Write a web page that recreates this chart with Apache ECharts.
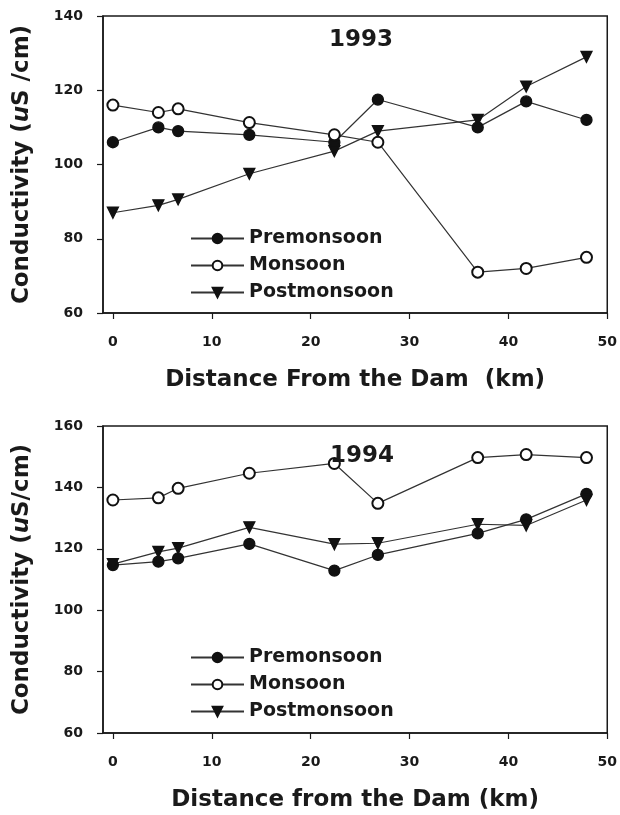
<!DOCTYPE html>
<html>
<head>
<meta charset="utf-8">
<script src="https://cdn.jsdelivr.net/npm/echarts@6/dist/echarts.min.js"></script>
<style>
html,body{margin:0;padding:0;background:#fff;}
#c{width:620px;height:815px;}
</style>
</head>
<body>
<div id="c"></div>
<script>
// Distance from the dam (km)
const distance = [0, 4.6, 6.6, 13.8, 22.4, 26.8, 36.9, 41.8, 47.9];
// 1993 conductivity (uS/cm)
const pre1993  = [106, 110, 109, 108, 106, 117.5, 110, 117, 112];
const mon1993  = [116, 114, 115, 111.3, 108, 106, 71, 72, 75];
const post1993 = [87, 89, 90.6, 97.5, 103.6, 109, 112, 121, 129];
// 1994 conductivity (uS/cm)
const pre1994  = [114.7, 115.8, 116.9, 121.6, 112.9, 118, 125, 129.6, 137.9];
const mon1994  = [135.9, 136.6, 139.7, 144.6, 147.8, 134.8, 149.7, 150.7, 149.7];
const post1994 = [115, 119, 120.2, 127, 121.5, 121.8, 128, 127.6, 135.9];
// tick labels
const xTicks = [0, 10, 20, 30, 40, 50];
const seriesNames = ['Premonsoon', 'Monsoon', 'Postmonsoon'];
const panelTitles = ['1993', '1994'];

const FF = 'DejaVu Sans';
const INK = '#1a1a1a';
const pair = (xs, ys) => xs.map((x, i) => [x, ys[i]]);

function xAxis(gi, name) {
  return {
    type: 'value', gridIndex: gi, min: -1, max: 50,
    axisLine: {show: true, onZero: false, lineStyle: {color: INK, width: 1.5}},
    axisTick: {show: true, length: 6, customValues: xTicks, lineStyle: {color: INK, width: 1.2}},
    axisLabel: {customValues: xTicks, margin: 22, color: INK, fontFamily: FF, fontWeight: 'bold', fontSize: 14},
    splitLine: {show: false},
    name: name, nameLocation: 'middle', nameGap: 56,
    nameTextStyle: {color: INK, fontFamily: FF, fontWeight: 'bold', fontSize: 23}
  };
}
function yAxis(gi, min, max, name) {
  return {
    type: 'value', gridIndex: gi, min: min, max: max, interval: 20,
    axisLine: {show: true, onZero: false, lineStyle: {color: INK, width: 1.5}},
    axisTick: {show: true, length: 6, lineStyle: {color: INK, width: 1.2}},
    axisLabel: {margin: 20, color: INK, fontFamily: FF, fontWeight: 'bold', fontSize: 14},
    splitLine: {show: false},
    name: name, nameLocation: 'middle', nameGap: 69,
    nameTextStyle: {
      color: INK, fontFamily: FF, fontWeight: 'bold', fontSize: 23,
      rich: {it: {fontStyle: 'italic', fontWeight: 'bold', fontFamily: FF, fontSize: 23, color: INK}}
    }
  };
}
const lineStyle = {color: '#333', width: 1.2};
function mk(name, gi, data, kind) {
  const s = {
    name: name, type: 'line', xAxisIndex: gi, yAxisIndex: gi, data: data,
    symbolSize: 11, lineStyle: lineStyle, showAllSymbol: true, animation: false,
    itemStyle: {color: '#111', borderColor: '#111', borderWidth: 1.3}
  };
  if (kind === 'filled') { s.symbol = 'circle'; }
  if (kind === 'open') { s.symbol = 'emptyCircle'; }
  if (kind === 'tri') { s.symbol = 'triangle'; s.symbolRotate = 180; }
  return s;
}
function legend(top) {
  return {
    data: seriesNames, orient: 'vertical', left: 185, top: top,
    itemWidth: 53, itemHeight: 12, itemGap: 8, selectedMode: false,
    textStyle: {color: INK, fontFamily: FF, fontWeight: 'bold', fontSize: 19, padding: [0, 0, 0, 0]}
  };
}

const chart = echarts.init(document.getElementById('c'), null, {renderer: 'canvas'});
chart.setOption({
  animation: false,
  backgroundColor: '#fff',
  title: [
    {text: panelTitles[0], left: 356, top: 24, textAlign: 'center',
     textStyle: {color: INK, fontFamily: FF, fontWeight: 'bold', fontSize: 23}},
    {text: panelTitles[1], left: 357, top: 440, textAlign: 'center',
     textStyle: {color: INK, fontFamily: FF, fontWeight: 'bold', fontSize: 23}}
  ],
  legend: [legend(224), legend(643)],
  grid: [
    {left: 103, right: 11.5, top: 16, height: 297, show: true, borderColor: INK, borderWidth: 1.5},
    {left: 103, right: 11.5, top: 426, height: 307, show: true, borderColor: INK, borderWidth: 1.5}
  ],
  xAxis: [xAxis(0, 'Distance From the Dam  (km)'), xAxis(1, 'Distance from the Dam (km)')],
  yAxis: [yAxis(0, 60, 140, 'Conductivity ({it|u}S /cm)'), yAxis(1, 60, 160, 'Conductivity ({it|u}S/cm)')],
  series: [
    mk(seriesNames[0], 0, pair(distance, pre1993), 'filled'),
    mk(seriesNames[1], 0, pair(distance, mon1993), 'open'),
    mk(seriesNames[2], 0, pair(distance, post1993), 'tri'),
    mk(seriesNames[0], 1, pair(distance, pre1994), 'filled'),
    mk(seriesNames[1], 1, pair(distance, mon1994), 'open'),
    mk(seriesNames[2], 1, pair(distance, post1994), 'tri')
  ]
});
</script>
</body>
</html>
